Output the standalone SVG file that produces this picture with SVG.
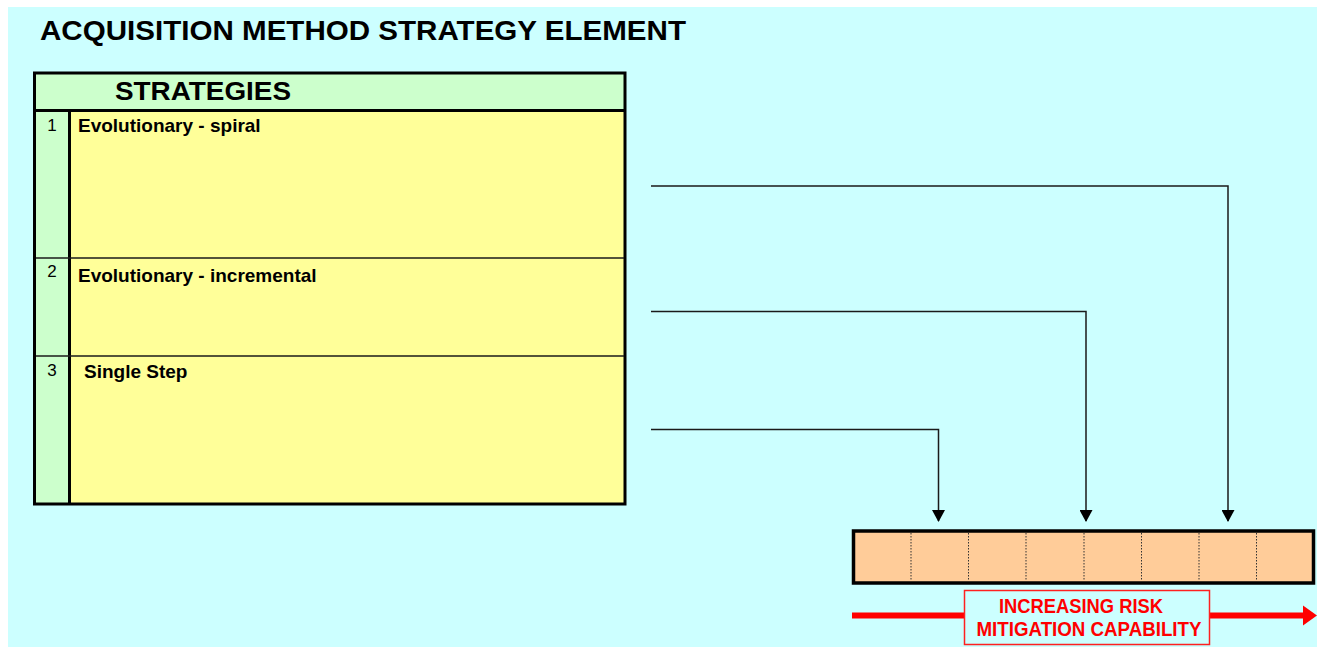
<svg xmlns="http://www.w3.org/2000/svg" width="1317" height="647" viewBox="0 0 1317 647">
  <defs>
    <style>
      .t { font-family: "Liberation Sans", Arial, sans-serif; fill: #000; }
      .b { font-weight: bold; }
      .cell { fill: #FFFF99; }
      .num { fill: #CCFFCC; }
      .thin { stroke: #1a1a1a; stroke-width: 1.3; fill: none; }
      .thick { stroke: #000; stroke-width: 3; fill: none; }
      .conn { stroke: #1a1a1a; stroke-width: 1.5; fill: none; }
      .red { fill: #FF0000; font-family: "Liberation Sans", Arial, sans-serif; font-weight: bold; }
    </style>
    <marker id="arrow" viewBox="0 0 12 13" refX="11" refY="6.5" markerWidth="12" markerHeight="13" markerUnits="userSpaceOnUse" orient="auto">
      <path d="M0,0 L12,6.5 L0,13 Z" fill="#000"/>
    </marker>
  </defs>

  <!-- page background -->
  <rect x="0" y="0" width="1317" height="647" fill="#FFFFFF"/>
  <rect x="8" y="7" width="1309" height="640" fill="#CCFFFF"/>

  <text class="t b" x="40" y="40" font-size="28" textLength="646" lengthAdjust="spacingAndGlyphs">ACQUISITION METHOD STRATEGY ELEMENT</text>

  <!-- strategies table -->
  <g id="strategies-table">
    <rect x="35" y="73" width="590" height="38" fill="#CCFFCC"/>
    <rect class="num" x="35" y="111" width="34" height="393"/>
    <rect class="cell" x="70" y="111" width="555" height="393"/>
    <text class="t b" x="115" y="100" font-size="26" textLength="176" lengthAdjust="spacingAndGlyphs">STRATEGIES</text>
    <line class="thick" x1="35" y1="110.5" x2="625" y2="110.5"/>
    <line class="thick" x1="69.5" y1="110" x2="69.5" y2="504"/>
    <rect class="thick" x="34.5" y="73" width="590.5" height="431"/>
  </g>

  <g id="row-1">
    <text class="t" x="52" y="131" font-size="17" text-anchor="middle">1</text>
    <text class="t b" x="78" y="132" font-size="19">Evolutionary - spiral</text>
  </g>
  <g id="row-2">
    <line class="thin" x1="36" y1="258" x2="624" y2="258"/>
    <text class="t" x="52" y="277" font-size="17" text-anchor="middle">2</text>
    <text class="t b" x="78" y="282" font-size="19">Evolutionary - incremental</text>
  </g>
  <g id="row-3">
    <line class="thin" x1="36" y1="356" x2="624" y2="356"/>
    <text class="t" x="52" y="376" font-size="17" text-anchor="middle">3</text>
    <text class="t b" x="84" y="378" font-size="19">Single Step</text>
  </g>

  <!-- risk mitigation scale -->
  <g id="scale-bar">
    <rect x="853.5" y="531" width="460" height="52" fill="#FFCC99" stroke="#000" stroke-width="3.5"/>
    <g stroke="#333" stroke-width="1" stroke-dasharray="1.5,1.5">
      <line x1="911" y1="533" x2="911" y2="581"/>
      <line x1="968.5" y1="533" x2="968.5" y2="581"/>
      <line x1="1026" y1="533" x2="1026" y2="581"/>
      <line x1="1084" y1="533" x2="1084" y2="581"/>
      <line x1="1141.5" y1="533" x2="1141.5" y2="581"/>
      <line x1="1199" y1="533" x2="1199" y2="581"/>
      <line x1="1256.5" y1="533" x2="1256.5" y2="581"/>
    </g>
  </g>

  <g id="risk-arrow">
    <line x1="852" y1="615.5" x2="1305" y2="615.5" stroke="#FF0000" stroke-width="6"/>
    <path d="M1303,605.5 L1317,615.5 L1303,625.5 Z" fill="#FF0000"/>
    <rect x="964.5" y="590.5" width="245" height="54" fill="#CCFFFF" stroke="#FF2020" stroke-width="1.5"/>
    <text class="red" x="1081" y="613" font-size="20" text-anchor="middle" textLength="164" lengthAdjust="spacingAndGlyphs">INCREASING RISK</text>
    <text class="red" x="1089" y="636" font-size="20" text-anchor="middle" textLength="225" lengthAdjust="spacingAndGlyphs">MITIGATION CAPABILITY</text>
  </g>

  <!-- connectors -->
  <g id="connectors">
    <polyline class="conn" points="651,186 1228,186 1228,521" marker-end="url(#arrow)"/>
    <polyline class="conn" points="651,311.5 1086,311.5 1086,521" marker-end="url(#arrow)"/>
    <polyline class="conn" points="651,429.5 938.5,429.5 938.5,521" marker-end="url(#arrow)"/>
  </g>
</svg>
